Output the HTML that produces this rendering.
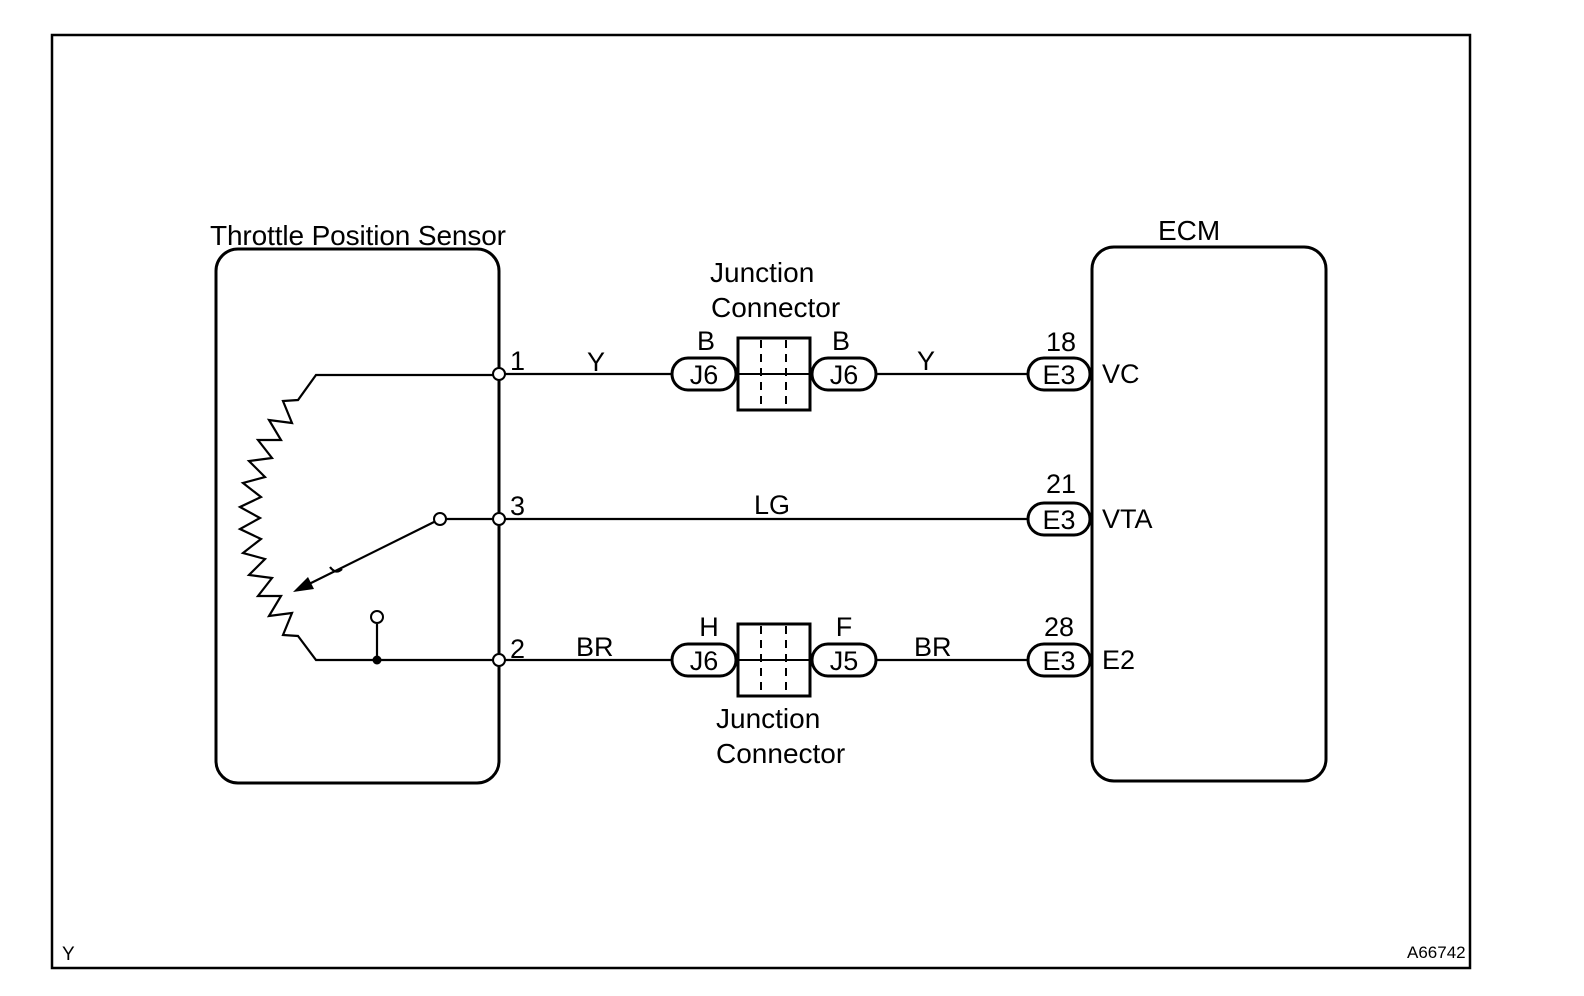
<!DOCTYPE html>
<html><head><meta charset="utf-8"><style>
html,body{margin:0;padding:0;background:#fff;overflow:hidden;width:1584px;height:996px;}
svg{display:block;}
text{font-family:"Liberation Sans",Arial,sans-serif;fill:#000;}
</style></head><body>
<svg width="1584" height="996" viewBox="0 0 1584 996" xmlns="http://www.w3.org/2000/svg">
<rect x="52" y="35" width="1418" height="933" fill="none" stroke="#000" stroke-width="2.5"/>
<rect x="216" y="249" width="283" height="534" rx="22" fill="none" stroke="#000" stroke-width="3"/>
<rect x="1092" y="247" width="234" height="534" rx="22" fill="none" stroke="#000" stroke-width="3"/>
<text x="210" y="245" font-size="28" textLength="296">Throttle Position Sensor</text>
<text x="1158" y="240" font-size="28">ECM</text>
<g fill="none" stroke="#000" stroke-width="2.2">
<polyline points="499,375 316,375 298,400 283,401 292,423 269,420 281,440 258,440 272,458 249,461 265,477 243,483 261,497 240,507 260,518 240,529 261,539 243,553 265,559 249,575 272,578 258,596 281,596 269,616 292,613 283,635 298,636 316,660 499,660"/>
<line x1="446" y1="519" x2="499" y2="519"/>
<line x1="434" y1="522" x2="305" y2="586"/>
<line x1="377" y1="624" x2="377" y2="660"/>
<path d="M330,567 q6,8 12,2"/>
</g>
<polygon points="293,592 314,589 308,577" fill="#000"/>
<circle cx="377" cy="660" r="4.5" fill="#000"/>
<g fill="#fff" stroke="#000" stroke-width="2">
<circle cx="440" cy="519" r="6"/>
<circle cx="377" cy="617" r="6"/>
<circle cx="499" cy="374" r="6"/>
<circle cx="499" cy="519" r="6"/>
<circle cx="499" cy="660" r="6"/>
</g>
<g font-size="27">
<text x="510" y="370">1</text>
<text x="510" y="515">3</text>
<text x="510" y="658">2</text>
</g>
<g stroke="#000" stroke-width="2.2">
<line x1="505" y1="374" x2="672" y2="374"/>
<line x1="876" y1="374" x2="1028" y2="374"/>
<line x1="505" y1="519" x2="1028" y2="519"/>
<line x1="505" y1="660" x2="672" y2="660"/>
<line x1="876" y1="660" x2="1028" y2="660"/>
</g>
<g font-size="27">
<text x="587" y="371">Y</text>
<text x="917" y="370">Y</text>
<text x="754" y="514">LG</text>
<text x="576" y="656">BR</text>
<text x="914" y="656">BR</text>
</g>
<g fill="none" stroke="#000" stroke-width="3">
<rect x="738" y="338" width="72" height="72"/>
<rect x="738" y="624" width="72" height="72"/>
</g>
<g stroke="#000" stroke-width="2">
<line x1="738" y1="374" x2="810" y2="374"/>
<line x1="738" y1="660" x2="810" y2="660"/>
</g>
<g stroke="#000" stroke-width="2" stroke-dasharray="8,6">
<line x1="761" y1="340" x2="761" y2="408"/>
<line x1="786" y1="340" x2="786" y2="408"/>
<line x1="761" y1="626" x2="761" y2="694"/>
<line x1="786" y1="626" x2="786" y2="694"/>
</g>
<g fill="#fff" stroke="#000" stroke-width="3">
<rect x="672" y="358" width="64" height="32" rx="16"/>
<rect x="812" y="358" width="64" height="32" rx="16"/>
<rect x="672" y="644" width="64" height="32" rx="16"/>
<rect x="812" y="644" width="64" height="32" rx="16"/>
<rect x="1028" y="358" width="62" height="32" rx="16"/>
<rect x="1028" y="503" width="62" height="32" rx="16"/>
<rect x="1028" y="644" width="62" height="32" rx="16"/>
</g>
<g font-size="27" text-anchor="middle">
<text x="704" y="384">J6</text>
<text x="844" y="384">J6</text>
<text x="704" y="670">J6</text>
<text x="844" y="670">J5</text>
<text x="1059" y="384">E3</text>
<text x="1059" y="529">E3</text>
<text x="1059" y="670">E3</text>
<text x="706" y="350">B</text>
<text x="841" y="350">B</text>
<text x="709" y="636">H</text>
<text x="844" y="636">F</text>
<text x="1061" y="351">18</text>
<text x="1061" y="493">21</text>
<text x="1059" y="636">28</text>
</g>
<g font-size="28">
<text x="710" y="282">Junction</text>
<text x="711" y="317">Connector</text>
<text x="716" y="728">Junction</text>
<text x="716" y="763">Connector</text>
</g>
<g font-size="27">
<text x="1102" y="383">VC</text>
<text x="1102" y="528">VTA</text>
<text x="1102" y="669">E2</text>
</g>
<text x="62" y="960" font-size="19">Y</text>
<text x="1407" y="958" font-size="17">A66742</text>
</svg>
</body></html>
